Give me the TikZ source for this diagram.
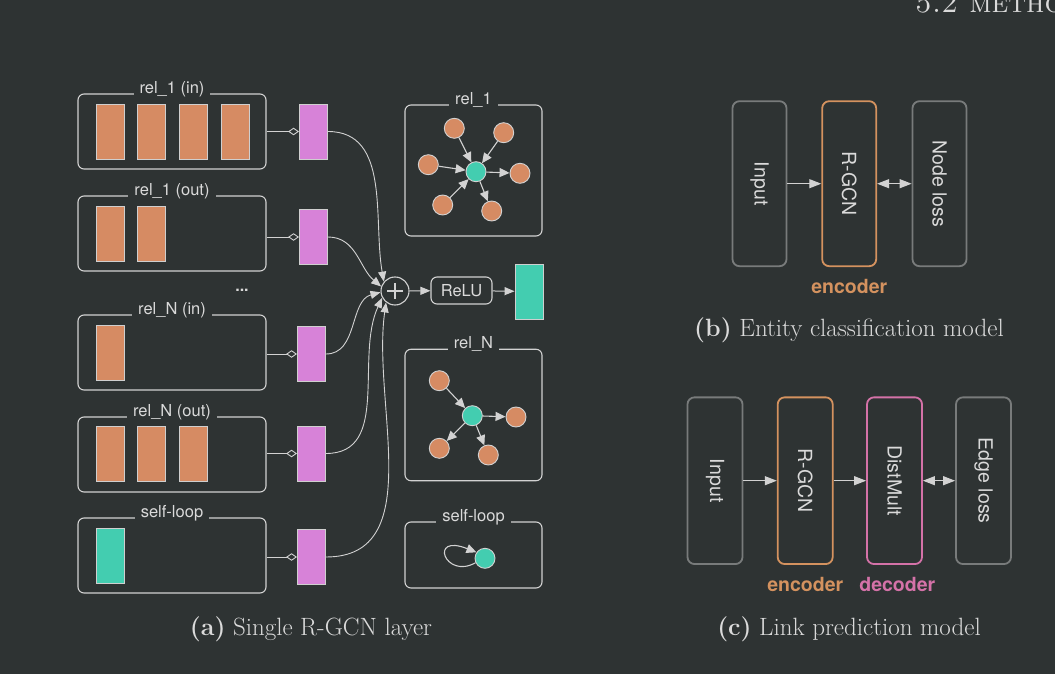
\documentclass[tikz,border=0pt]{standalone}
\usepackage{fontspec}
\setsansfont{TeX Gyre Heros}
\usetikzlibrary{arrows.meta,calc}
\definecolor{bg}{HTML}{2E3333}
\definecolor{ln}{HTML}{D2D2D2}
\definecolor{vecb}{HTML}{CFCFCF}
\definecolor{org}{HTML}{D68B63}
\definecolor{pnk}{HTML}{D782D8}
\definecolor{tea}{HTML}{43CDB0}
\definecolor{gbox}{HTML}{787B7B}
\definecolor{encc}{HTML}{D4925F}
\definecolor{decc}{HTML}{D472A8}
\definecolor{txt}{HTML}{DADADA}
\tikzset{
  lbox/.style={draw=ln, line width=1.1pt, rounded corners=6pt, inner sep=0pt, minimum width=188pt, minimum height=75pt},
  gbox/.style={draw=ln, line width=1.1pt, rounded corners=6pt, inner sep=0pt, minimum width=137pt},
  ttl/.style={fill=bg, inner xsep=6pt, inner ysep=1pt, anchor=base, text=txt, font=\sffamily\fontsize{16.5}{16.5}\selectfont},
  vec/.style={draw=vecb, line width=0.9pt, minimum width=28pt, minimum height=55pt, inner sep=0pt},
  ovec/.style={vec, fill=org},
  pvec/.style={vec, fill=pnk},
  tvec/.style={vec, fill=tea},
  dia/.style={draw=ln, line width=0.9pt, {Diamond[open,length=11pt,width=7.5pt]}-},
  cur/.style={draw=ln, line width=0.9pt, -{Triangle[length=10pt,width=8pt]}},
  arr/.style={draw=ln, line width=1pt, -{Triangle[length=10pt,width=8pt]}},
  onode/.style={circle, fill=org, draw=ln, line width=0.9pt, minimum size=20pt, inner sep=0pt},
  tnode/.style={circle, fill=tea, draw=ln, line width=0.9pt, minimum size=20pt, inner sep=0pt},
  garr/.style={draw=ln, line width=1.1pt, -{Triangle[length=10pt,width=9pt]}},
  mbox/.style={draw=gbox, line width=1.8pt, rounded corners=7pt, minimum width=54pt, minimum height=165pt, inner sep=0pt, text=txt, font=\sffamily\fontsize{19.5}{19.5}\selectfont},
  marr/.style={draw=ln, line width=1.1pt, -{Triangle[length=12pt,width=9pt]}},
  mdarr/.style={draw=ln, line width=1.1pt, {Triangle[length=12pt,width=9pt]}-{Triangle[length=12pt,width=9pt]}},
  lab/.style={font=\sffamily\bfseries\fontsize{19.5}{19.5}\selectfont},
  capt/.style={anchor=base, text=txt, font=\fontsize{25}{25}\selectfont},
}
\begin{document}
\begin{tikzpicture}[x=1pt,y=-1pt]
\clip (0,0) rectangle (1055,674);
\fill[bg] (0,0) rectangle (1055,674);

% header (running head, cut by the top edge as in the reference)
\node[anchor=base west, inner sep=0pt, text=txt, font=\fontsize{30}{30}\selectfont] (hdr) at (915,13) {\addfontfeatures{LetterSpace=9}\textsc{5.2 method}};

% ---------- panel (a) left boxes ----------
\node[lbox] (b1) at (172,131.5) {};
\node[lbox] (b2) at (172,233.5) {};
\node[lbox] (b3) at (172,352.5) {};
\node[lbox] (b4) at (172,454.5) {};
\node[lbox] (b5) at (172,555.5) {};
\node[ttl] (t1) at (b1.north) {rel\_1 (in)};
\node[ttl] (t2) at (b2.north) {rel\_1 (out)};
\node[ttl] (t3) at (b3.north) {rel\_N (in)};
\node[ttl] (t4) at (b4.north) {rel\_N (out)};
\node[ttl] (t5) at (b5.north) {self-loop};
\node[text=txt, font=\sffamily\bfseries\fontsize{16}{16}\selectfont] (dots) at (242,290) {...};

\node[ovec] (v11) at (110,131.5) {};
\node[ovec] (v12) at (151.5,131.5) {};
\node[ovec] (v13) at (193.5,131.5) {};
\node[ovec] (v14) at (235.5,131.5) {};
\node[ovec] (v21) at (110,233.5) {};
\node[ovec] (v22) at (151.5,233.5) {};
\node[ovec] (v31) at (110,352.5) {};
\node[ovec] (v41) at (110,453.5) {};
\node[ovec] (v42) at (151.5,453.5) {};
\node[ovec] (v43) at (193.5,453.5) {};
\node[tvec] (v51) at (110,556) {};

\node[pvec] (p1) at (313.5,131.5) {};
\node[pvec] (p2) at (313.5,237) {};
\node[pvec] (p3) at (311.5,354) {};
\node[pvec] (p4) at (311.5,453.5) {};
\node[pvec] (p5) at (311.5,557) {};

\draw[dia] (p1.west) -- (p1.west -| b1.east);
\draw[dia] (p2.west) -- (p2.west -| b2.east);
\draw[dia] (p3.west) -- (p3.west -| b3.east);
\draw[dia] (p4.west) -- (p4.west -| b4.east);
\draw[dia] (p5.west) -- (p5.west -| b5.east);

% sum, relu, output
\node[circle, draw=ln, line width=1.1pt, minimum size=28pt, inner sep=0pt] (plus) at (395,291) {};
\draw[draw=ln, line width=1.1pt] ($(plus)+(-8,0)$) -- ($(plus)+(8,0)$) ($(plus)+(0,-8)$) -- ($(plus)+(0,8)$);
\node[draw=ln, line width=1.1pt, rounded corners=6pt, minimum width=61pt, minimum height=27pt, inner sep=0pt, text=txt, font=\sffamily\fontsize{16.5}{16.5}\selectfont] (relu) at (461.5,290.5) {ReLU};
\node[tvec] (out) at (529,291.5) {};
\draw[arr] (plus) -- (relu);
\draw[arr] (relu) -- (out);

\draw[cur] (p1.east) to[out=0,in=100] (plus.140);
\draw[cur] (p2.east) to[out=0,in=140] (plus.162);
\draw[cur] (p3.east) to[out=0,in=195] (plus.185);
\draw[cur] (p4.east) to[out=0,in=245] (plus.208);
\draw[cur] (p5.east) to[out=0,in=262] (plus.232);

% ---------- panel (a) right graphs ----------
\node[gbox, minimum height=131pt] (g1) at (473.5,170.5) {};
\node[ttl] (gt1) at (g1.north) {rel\_1};
\node[tnode] (c1) at (476,171.7) {};
\node[onode] (a1) at (454.3,128.3) {};
\node[onode] (a2) at (503.7,132.7) {};
\node[onode] (a3) at (428.3,164.7) {};
\node[onode] (a4) at (520,173.3) {};
\node[onode] (a5) at (442.7,205) {};
\node[onode] (a6) at (491.7,211) {};
\draw[garr] (a1) -- (c1);
\draw[garr] (a2) -- (c1);
\draw[garr] (a3) -- (c1);
\draw[garr] (a5) -- (c1);
\draw[garr] (c1) -- (a4);
\draw[garr] (c1) -- (a6);

\node[gbox, minimum height=131.5pt] (g2) at (473.5,415) {};
\node[ttl] (gt2) at (g2.north) {rel\_N};
\node[tnode] (c2) at (472.3,415.7) {};
\node[onode] (n1) at (439.3,380.7) {};
\node[onode] (n2) at (516,417) {};
\node[onode] (n3) at (439.3,448.3) {};
\node[onode] (n4) at (488.3,455) {};
\draw[garr] (n1) -- (c2);
\draw[garr] (c2) -- (n2);
\draw[garr] (c2) -- (n3);
\draw[garr] (c2) -- (n4);

\node[gbox, minimum height=66pt] (g3) at (473.5,555) {};
\node[ttl] (gt3) at (g3.north) {self-loop};
\node[tnode] (c3) at (485,558.3) {};
\draw[draw=ln, line width=1.1pt, -{Triangle[length=10pt,width=9pt]}] (c3.205) .. controls (445,580) and (428,533) .. (c3.145);

\node[capt] (capa) at (311,635.5) {\textbf{(a)} Single R-GCN layer};

% ---------- panel (b) ----------
\node[mbox] (bi) at (759.5,183.7) {\rotatebox{-90}{Input}};
\node[mbox, draw=encc] (br) at (849.2,183.7) {\rotatebox{-90}{R-GCN}};
\node[mbox] (bn) at (939.5,183.7) {\rotatebox{-90}{Node loss}};
\draw[marr] (bi.east) -- (br.west);
\draw[mdarr] (br.east) -- (bn.west);
\node[lab, text=encc] (benc) at (849.3,286.7) {encoder};
\node[capt] (capb) at (849,336) {\textbf{(b)} Entity classification model};

% ---------- panel (c) ----------
\node[mbox, minimum width=55pt, minimum height=166.7pt] (ci) at (715,480.7) {\rotatebox{-90}{Input}};
\node[mbox, minimum width=55pt, minimum height=166.7pt, draw=encc] (cr) at (805.2,480.7) {\rotatebox{-90}{R-GCN}};
\node[mbox, minimum width=55pt, minimum height=166.7pt, draw=decc] (cd) at (894.5,480.7) {\rotatebox{-90}{DistMult}};
\node[mbox, minimum width=55pt, minimum height=166.7pt] (ce) at (983.5,480.7) {\rotatebox{-90}{Edge loss}};
\draw[marr] (ci.east) -- (cr.west);
\draw[marr] (cr.east) -- (cd.west);
\draw[mdarr] (cd.east) -- (ce.west);
\node[lab, text=encc] (cenc) at (805.3,584.3) {encoder};
\node[lab, text=decc] (cdec) at (897.3,584.3) {decoder};
\node[capt] (capc) at (849,635) {\textbf{(c)} Link prediction model};
\end{tikzpicture}
\end{document}
